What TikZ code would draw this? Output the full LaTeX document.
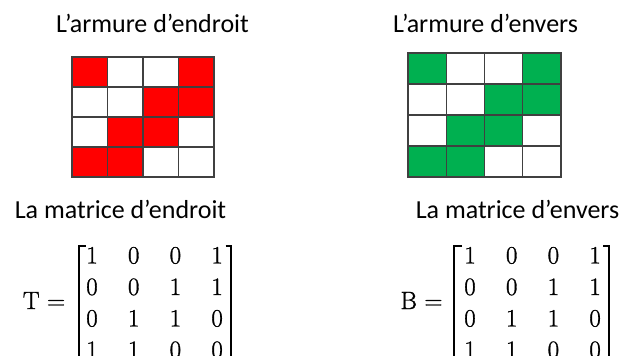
\documentclass[tikz,border=0pt]{standalone}
\usepackage[no-math]{fontspec}
\setmainfont{Carlito}
\newfontfamily\digitfont{Latin Modern Roman}[FakeBold=1.2]
\definecolor{gridgray}{HTML}{404040}
\definecolor{weavered}{HTML}{FF0000}
\definecolor{weavegreen}{HTML}{00B050}
\begin{document}
\begin{tikzpicture}[x=1pt,y=-1pt,
  title/.style={font=\fontsize{26}{30}\selectfont, anchor=base, inner sep=0pt, text=black},
  cellL/.style={draw=gridgray, line width=1.2pt, minimum width=35.5pt, minimum height=30pt, inner sep=0pt, outer sep=0pt},
  cellR/.style={draw=gridgray, line width=1.2pt, minimum width=38.25pt, minimum height=31pt, inner sep=0pt, outer sep=0pt},
  digit/.style={font=\digitfont\fontsize{25}{25}\selectfont, anchor=base, inner sep=0pt},
  bracket/.style={line width=2pt, black, line cap=butt, line join=miter}]
\useasboundingbox (0,0) rectangle (624,356);
\clip (0,0) rectangle (624,356);

% titles
\node[title] (t1) at (152.5,32) {L’armure d’endroit};
\node[title] (t2) at (485.5,32) {L’armure d’envers};
\node[title] (t3) at (120.5,218) {La matrice d’endroit};
\node[title] (t4) at (517.5,218) {La matrice d’envers};

% grids and matrices
\foreach \r/\row in {0/{1,0,0,1},1/{0,0,1,1},2/{0,1,1,0},3/{1,1,0,0}}{
  \foreach \v [count=\c from 0] in \row {
    \ifnum\v=1 \def\fcL{weavered}\def\fcR{weavegreen}\else\def\fcL{white}\def\fcR{white}\fi
    \node[cellL, fill=\fcL] (L-\r-\c) at ({72+35.5*(\c+0.5)},{57+30*(\r+0.5)}) {};
    \node[cellR, fill=\fcR] (R-\r-\c) at ({408+38.25*(\c+0.5)},{53+31*(\r+0.5)}) {};
    \node[digit] (mT-\r-\c) at ({92+41.7*\c},{263.5+31.5*\r}) {\v};
    \node[digit] (mB-\r-\c) at ({470+41.7*\c},{263.5+31.5*\r}) {\v};
  }
}

% matrix names
\node[digit] (eqT) at (44,309) {T\hspace{0.3em}=};
\node[digit] (eqB) at (421.5,309) {B\hspace{0.3em}=};

% brackets
\draw[bracket] (85.5,245.5) -- (78.5,245.5) -- (78.5,370);
\draw[bracket] (225.5,245.5) -- (231,245.5) -- (231,370);
\draw[bracket] (462,245.5) -- (453.5,245.5) -- (453.5,370);
\draw[bracket] (603,245.5) -- (609,245.5) -- (609,370);
\end{tikzpicture}
\end{document}
